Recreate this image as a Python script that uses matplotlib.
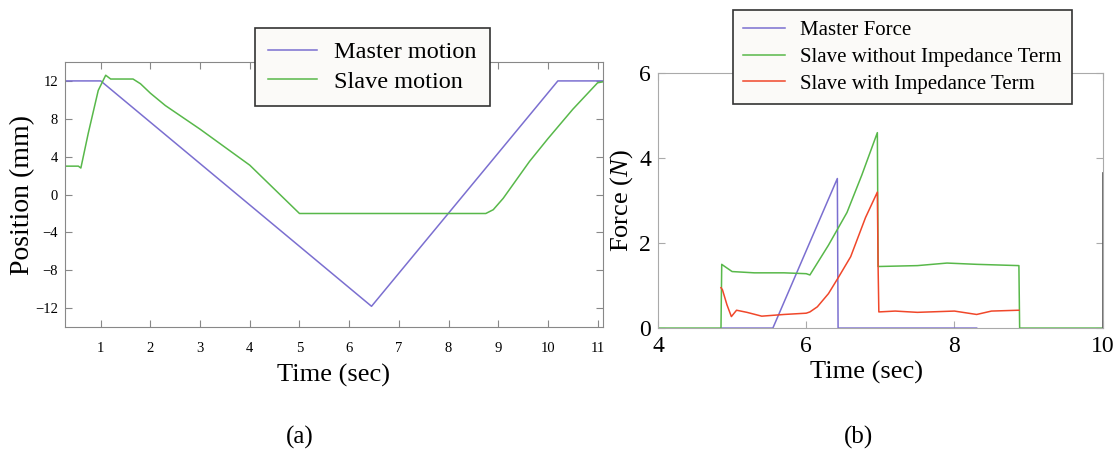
import numpy as np
import matplotlib
matplotlib.use("Agg")
import matplotlib.pyplot as plt

plt.rcParams['font.family'] = ['Liberation Serif', 'DejaVu Serif']
plt.rcParams['mathtext.fontset'] = 'custom'
plt.rcParams['mathtext.it'] = 'Liberation Serif:italic'
plt.rcParams['mathtext.rm'] = 'Liberation Serif'

# (a) position tracking
master_t = [0.28, 1.0, 6.45, 10.2, 11.1]
master_pos = [12.0, 12.0, -11.8, 12.0, 12.0]
slave_t = [0.28, 0.55, 0.6, 0.75, 0.95, 1.1, 1.2, 1.65, 1.8, 2.0, 2.3, 3.0, 4.0, 5.0,
           8.75, 8.9, 9.1, 9.63, 10.0, 10.5, 11.0, 11.1]
slave_pos = [3.0, 3.0, 2.8, 6.5, 11.0, 12.6, 12.2, 12.2, 11.7, 10.7, 9.4, 6.9, 3.1, -2.0,
             -2.0, -1.6, -0.4, 3.5, 5.9, 9.0, 11.8, 11.9]

# (b) forces
mf_t = [4.85, 5.55, 6.42, 6.43, 8.3]
mf_f = [0.0, 0.0, 3.52, 0.0, 0.0]
sw_t = [4.0, 4.85, 4.86, 4.9, 5.0, 5.3, 5.7, 6.0, 6.05, 6.3, 6.55, 6.75, 6.96, 6.97,
        7.0, 7.5, 7.9, 8.3, 8.87, 8.88, 10.0]
sw_f = [0.0, 0.0, 1.5, 1.45, 1.33, 1.3, 1.3, 1.28, 1.25, 1.95, 2.72, 3.6, 4.6, 1.45,
        1.45, 1.47, 1.53, 1.5, 1.47, 0.0, 0.0]
si_t = [4.85, 4.87, 4.93, 4.99, 5.06, 5.2, 5.4, 5.7, 6.0, 6.05, 6.15, 6.3, 6.43, 6.6,
        6.8, 6.96, 6.97, 6.98, 7.2, 7.5, 8.0, 8.3, 8.5, 8.87]
si_f = [0.95, 0.9, 0.55, 0.27, 0.42, 0.37, 0.28, 0.32, 0.35, 0.38, 0.5, 0.81, 1.18, 1.68,
        2.6, 3.2, 1.45, 0.38, 0.40, 0.37, 0.40, 0.32, 0.40, 0.42]
edge_t = [10.0, 10.0]
edge_f = [0.0, 3.65]

purple = '#7b6fd0'
green = '#58b84a'
red = '#f0472a'

fig = plt.figure(figsize=(11.2, 4.66), dpi=100)

# ---- panel (a)
ax1 = fig.add_axes([0.058, 0.298, 0.480, 0.569])
ax1.plot(master_t, master_pos, color=purple, lw=1.1, label='Master motion')
ax1.plot(slave_t, slave_pos, color=green, lw=1.1, label='Slave motion')
ax1.set_xlim(0.28, 11.1)
ax1.set_ylim(-14, 14)
ax1.set_xticks(range(1, 12))
ax1.set_yticks(range(-12, 13, 4))
ax1.tick_params(direction='in', top=True, right=True, length=5, color='#888',
                labelsize=10.5)
ax1.tick_params(axis='x', pad=11)
ax1.tick_params(axis='y', pad=5)
for s in ax1.spines.values():
    s.set_color('#888')
ax1.set_xlabel('Time (sec)', fontsize=19)
ax1.set_ylabel('Position (mm)', fontsize=20)
ax1.xaxis.set_label_coords(0.5, -0.14)
ax1.yaxis.set_label_coords(-0.055, 0.5)
leg1 = ax1.legend(loc='upper left', bbox_to_anchor=(255 / 1120, 1 - 28 / 466),
                  bbox_transform=fig.transFigure, fontsize=17.5, fancybox=False,
                  framealpha=1, facecolor='#fbfaf8', edgecolor='#333',
                  handlelength=2.0, handletextpad=0.7, borderpad=0.55,
                  labelspacing=0.3, borderaxespad=0)
leg1.get_frame().set_linewidth(1.2)

# ---- panel (b)
ax2 = fig.add_axes([0.5875, 0.296, 0.397, 0.547])
ax2.plot(mf_t, mf_f, color=purple, lw=1.1, label='Master Force')
ax2.plot(sw_t, sw_f, color=green, lw=1.1, label='Slave without Impedance Term')
ax2.plot(si_t, si_f, color=red, lw=1.1, label='Slave with Impedance Term')
ax2.plot(edge_t, edge_f, color='#555', lw=1.2)
ax2.set_xlim(4, 10)
ax2.set_ylim(0, 6)
ax2.set_xticks([4, 6, 8, 10])
ax2.set_yticks([0, 2, 4, 6])
ax2.tick_params(direction='in', top=True, right=True, length=5, color='#aaa',
                labelsize=17)
ax2.tick_params(axis='x', pad=6)
ax2.tick_params(axis='y', pad=5)
for s in ax2.spines.values():
    s.set_color('#aaa')
ax2.set_xlabel('Time (sec)', fontsize=19)
ax2.set_ylabel(r'Force ($N$)', fontsize=19)
ax2.xaxis.set_label_coords(0.47, -0.13)
ax2.yaxis.set_label_coords(-0.052, 0.5)
leg2 = ax2.legend(loc='upper left', bbox_to_anchor=(733 / 1120, 1 - 10 / 466),
                  bbox_transform=fig.transFigure, fontsize=15, fancybox=False,
                  framealpha=1, facecolor='#fbfaf8', edgecolor='#333',
                  handlelength=2.0, handletextpad=0.7, borderpad=0.5,
                  labelspacing=0.35, borderaxespad=0)
leg2.get_frame().set_linewidth(1.2)

fig.text(300 / 1120, 1 - 437 / 466, '(a)', fontsize=18, ha='center', va='center')
fig.text(858 / 1120, 1 - 437 / 466, '(b)', fontsize=18, ha='center', va='center')

fig.savefig('out.png', dpi=100)
